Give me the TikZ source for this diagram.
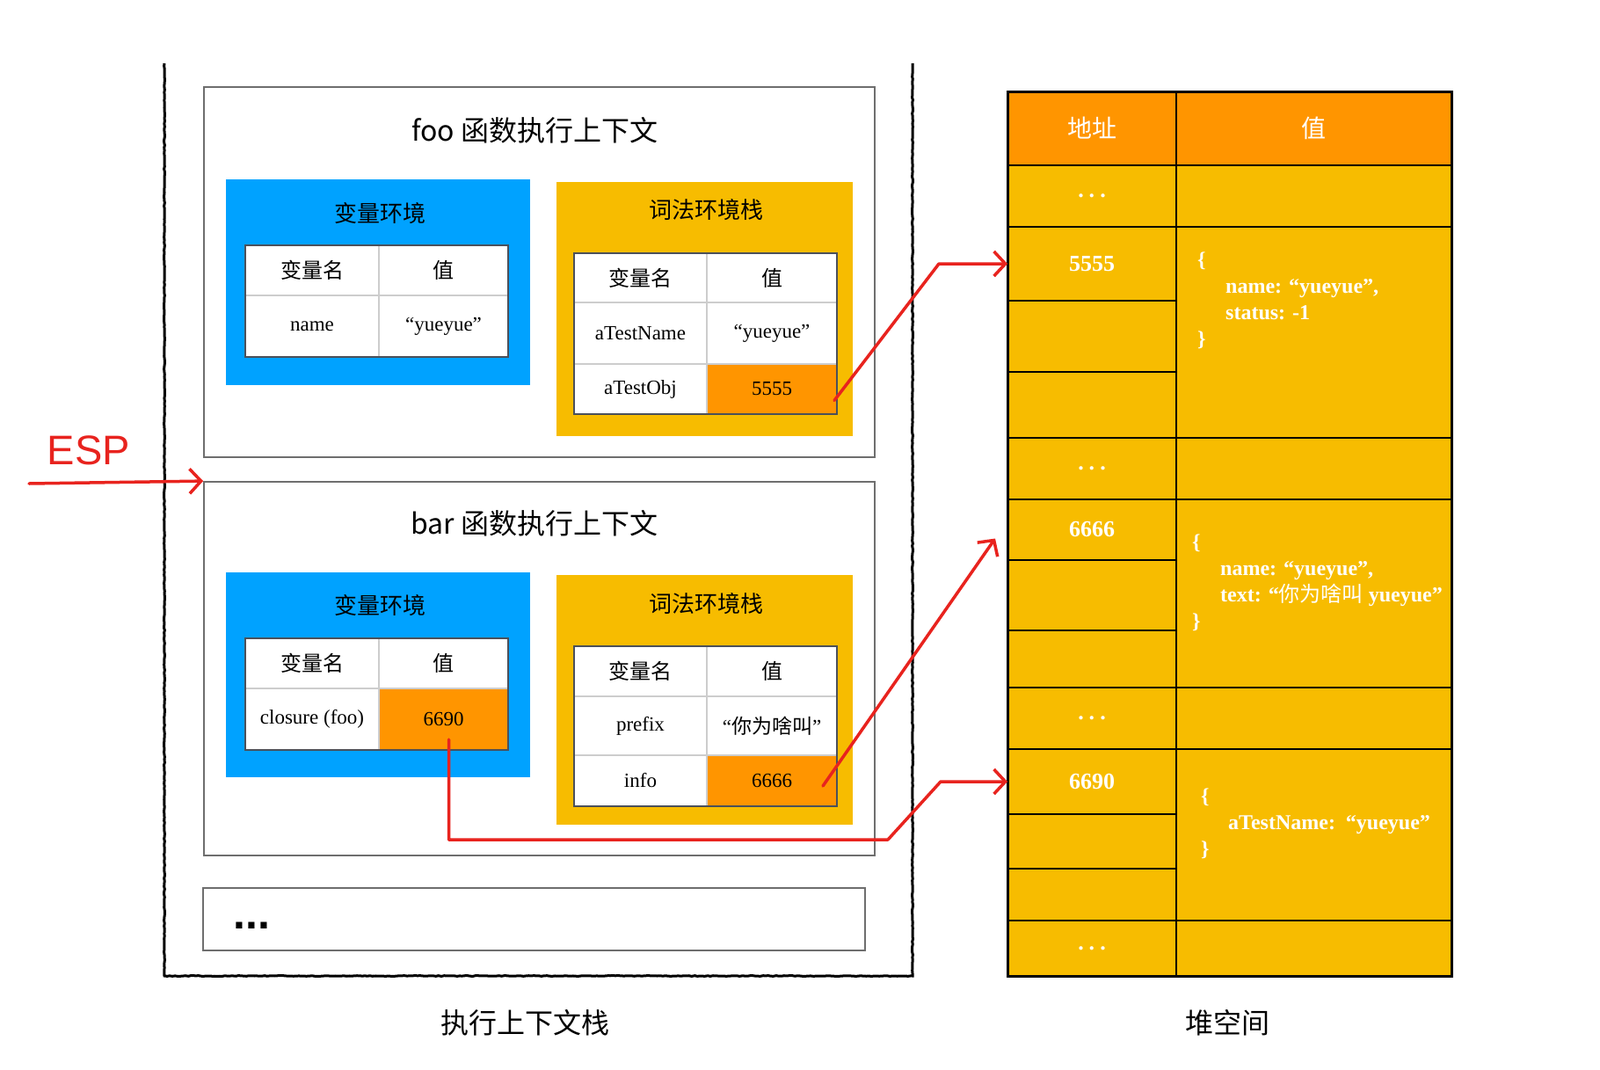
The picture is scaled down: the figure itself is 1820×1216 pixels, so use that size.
\documentclass[tikz,border=0pt]{standalone}
\usepackage{fontspec}
\setmainfont{Liberation Serif}
\setsansfont{Liberation Sans}
\newfontfamily\cjk{Noto Sans CJK SC}
\usetikzlibrary{arrows.meta, positioning, decorations.pathmorphing}

\definecolor{envblue}{RGB}{0,162,255}
\definecolor{lexyellow}{RGB}{247,188,0}
\definecolor{valorange}{RGB}{255,149,0}
\definecolor{arrowred}{RGB}{232,35,30}
\definecolor{framegray}{RGB}{110,110,110}
\definecolor{cellgray}{RGB}{205,205,205}
\definecolor{tablegray}{RGB}{75,80,90}

\begin{document}
\begin{tikzpicture}[x=1pt, y=-1pt,
    ctxbox/.style={rectangle, draw=framegray, line width=1.8pt, fill=white, inner sep=0pt},
    ctxtitle/.style={font=\cjk\fontsize{32}{36}\selectfont},
    envbox/.style={rectangle, fill=#1, inner sep=0pt},
    envtitle/.style={font=\cjk\fontsize{26}{30}\selectfont},
    cell/.style={rectangle, draw=cellgray, line width=1.5pt, fill=white, inner sep=0pt, outer sep=0pt, font=\fontsize{23}{26}\selectfont},
    headcell/.style={cell, font=\cjk\fontsize{24}{28}\selectfont},
    valcell/.style={cell, fill=valorange},
    tableframe/.style={draw=tablegray, line width=2.2pt},
    heapcell/.style={rectangle, draw=black, line width=2.5pt, fill=lexyellow, inner sep=0pt, outer sep=0pt, text=white, font=\bfseries\fontsize{26}{30}\selectfont},
    heaphead/.style={heapcell, fill=valorange, font=\cjk\fontsize{28}{32}\selectfont},
    heaptext/.style={text=white, align=left, inner sep=0pt, anchor=north west, font=\bfseries\fontsize{24}{30}\selectfont},
    captiontext/.style={font=\cjk\fontsize{32}{36}\selectfont},
    stackline/.style={draw=black, line width=3pt, decorate, decoration={random steps, segment length=3pt, amplitude=0.4pt}},
    redarrow/.style={draw=arrowred, line width=3.5pt, line cap=round, line join=round, -{Straight Barb[length=13pt, width=28pt, line width=3.5pt]}}
]
\useasboundingbox[fill=white] (0,0) rectangle (1820,1216);

% Stack frame
\draw[stackline] (187,72) -- (187,1110) -- (1038,1110) -- (1038,72);

% foo context
\node[ctxbox, minimum width=763pt, minimum height=421pt] (foo) at (613.5,309.5) {};
\node[ctxtitle] (foo-title) at (608,148) {foo 函数执行上下文};

\node[envbox=envblue, minimum width=346pt, minimum height=234pt] (foo-var) at (430,321) {};
\node[envtitle] (foo-var-title) at (432,243) {变量环境};
\node[headcell, minimum width=152pt, minimum height=57pt, anchor=north west] (foo-var-h1) at (279,279) {变量名};
\node[headcell, minimum width=147pt, minimum height=57pt, right=0pt of foo-var-h1] (foo-var-h2) {值};
\node[cell, minimum width=152pt, minimum height=70pt, below=0pt of foo-var-h1] (foo-var-n1) {name};
\node[cell, minimum width=147pt, minimum height=70pt, below=0pt of foo-var-h2] (foo-var-v1) {“yueyue”};
\draw[tableframe] (foo-var-h1.north west) rectangle (foo-var-v1.south east);

\node[envbox=lexyellow, minimum width=337pt, minimum height=289pt] (foo-lex) at (801.5,351.5) {};
\node[envtitle] (foo-lex-title) at (803,239) {词法环境栈};
\node[headcell, minimum width=151pt, minimum height=56pt, anchor=north west] (foo-lex-h1) at (653,288) {变量名};
\node[headcell, minimum width=148pt, minimum height=56pt, right=0pt of foo-lex-h1] (foo-lex-h2) {值};
\node[cell, minimum width=151pt, minimum height=70pt, below=0pt of foo-lex-h1] (foo-lex-n1) {aTestName};
\node[cell, minimum width=148pt, minimum height=70pt, below=0pt of foo-lex-h2] (foo-lex-v1) {“yueyue”};
\node[cell, minimum width=151pt, minimum height=57pt, below=0pt of foo-lex-n1] (foo-lex-n2) {aTestObj};
\node[valcell, minimum width=148pt, minimum height=57pt, below=0pt of foo-lex-v1] (foo-lex-v2) {5555};
\draw[tableframe] (foo-lex-h1.north west) rectangle (foo-lex-v2.south east);

% bar context
\node[ctxbox, minimum width=763pt, minimum height=425pt] (bar) at (613.5,760.5) {};
\node[ctxtitle] (bar-title) at (608,595) {bar 函数执行上下文};

\node[envbox=envblue, minimum width=346pt, minimum height=233pt] (bar-var) at (430,767.5) {};
\node[envtitle] (bar-var-title) at (432,689) {变量环境};
\node[headcell, minimum width=152pt, minimum height=57pt, anchor=north west] (bar-var-h1) at (279,726) {变量名};
\node[headcell, minimum width=147pt, minimum height=57pt, right=0pt of bar-var-h1] (bar-var-h2) {值};
\node[cell, minimum width=152pt, minimum height=70pt, below=0pt of bar-var-h1] (bar-var-n1) {closure (foo)};
\node[valcell, minimum width=147pt, minimum height=70pt, below=0pt of bar-var-h2] (bar-var-v1) {6690};
\draw[tableframe] (bar-var-h1.north west) rectangle (bar-var-v1.south east);

\node[envbox=lexyellow, minimum width=337pt, minimum height=284pt] (bar-lex) at (801.5,796) {};
\node[envtitle] (bar-lex-title) at (803,687) {词法环境栈};
\node[headcell, minimum width=151pt, minimum height=57pt, anchor=north west] (bar-lex-h1) at (653,735) {变量名};
\node[headcell, minimum width=148pt, minimum height=57pt, right=0pt of bar-lex-h1] (bar-lex-h2) {值};
\node[cell, minimum width=151pt, minimum height=67pt, below=0pt of bar-lex-h1] (bar-lex-n1) {prefix};
\node[cell, minimum width=148pt, minimum height=67pt, below=0pt of bar-lex-h2] (bar-lex-v1) {“{\cjk 你为啥叫}”};
\node[cell, minimum width=151pt, minimum height=58pt, below=0pt of bar-lex-n1] (bar-lex-n2) {info};
\node[valcell, minimum width=148pt, minimum height=58pt, below=0pt of bar-lex-v1] (bar-lex-v2) {6666};
\draw[tableframe] (bar-lex-h1.north west) rectangle (bar-lex-v2.south east);

% more contexts
\node[ctxbox, minimum width=753pt, minimum height=71pt] (more) at (607.5,1045.5) {};
\node[font=\sffamily\bfseries\fontsize{50}{50}\selectfont, inner sep=0pt, anchor=base west] (more-dots) at ([xshift=35pt, yshift=-10.5pt]more.west) {...};

% Heap
\node[heaphead, minimum width=192pt, minimum height=84pt, anchor=north west] (heap-addr-head) at (1146,104) {地址};
\node[heaphead, minimum width=313pt, minimum height=84pt, right=0pt of heap-addr-head] (heap-val-head) {值};

\node[heapcell, minimum width=192pt, minimum height=70pt, below=0pt of heap-addr-head] (heap-addr-1) {.\hspace{6pt}.\hspace{6pt}.};
\node[heapcell, minimum width=192pt, minimum height=84pt, below=0pt of heap-addr-1] (heap-addr-2) {5555};
\node[heapcell, minimum width=192pt, minimum height=81pt, below=0pt of heap-addr-2] (heap-addr-3) {};
\node[heapcell, minimum width=192pt, minimum height=75pt, below=0pt of heap-addr-3] (heap-addr-4) {};
\node[heapcell, minimum width=192pt, minimum height=70pt, below=0pt of heap-addr-4] (heap-addr-5) {.\hspace{6pt}.\hspace{6pt}.};
\node[heapcell, minimum width=192pt, minimum height=69pt, below=0pt of heap-addr-5] (heap-addr-6) {6666};
\node[heapcell, minimum width=192pt, minimum height=80pt, below=0pt of heap-addr-6] (heap-addr-7) {};
\node[heapcell, minimum width=192pt, minimum height=65pt, below=0pt of heap-addr-7] (heap-addr-8) {};
\node[heapcell, minimum width=192pt, minimum height=70pt, below=0pt of heap-addr-8] (heap-addr-9) {.\hspace{6pt}.\hspace{6pt}.};
\node[heapcell, minimum width=192pt, minimum height=74pt, below=0pt of heap-addr-9] (heap-addr-10) {6690};
\node[heapcell, minimum width=192pt, minimum height=62pt, below=0pt of heap-addr-10] (heap-addr-11) {};
\node[heapcell, minimum width=192pt, minimum height=59pt, below=0pt of heap-addr-11] (heap-addr-12) {};
\node[heapcell, minimum width=192pt, minimum height=63pt, below=0pt of heap-addr-12] (heap-addr-13) {.\hspace{6pt}.\hspace{6pt}.};

\node[heapcell, minimum width=313pt, minimum height=70pt, below=0pt of heap-val-head] (heap-val-1) {};
\node[heapcell, minimum width=313pt, minimum height=240pt, below=0pt of heap-val-1] (heap-val-2) {};
\node[heapcell, minimum width=313pt, minimum height=70pt, below=0pt of heap-val-2] (heap-val-3) {};
\node[heapcell, minimum width=313pt, minimum height=214pt, below=0pt of heap-val-3] (heap-val-4) {};
\node[heapcell, minimum width=313pt, minimum height=70pt, below=0pt of heap-val-4] (heap-val-5) {};
\node[heapcell, minimum width=313pt, minimum height=195pt, below=0pt of heap-val-5] (heap-val-6) {};
\node[heapcell, minimum width=313pt, minimum height=63pt, below=0pt of heap-val-6] (heap-val-7) {};
\draw[line width=3pt] (heap-addr-head.north west) rectangle (heap-val-7.south east);

\node[heaptext] (obj-5555) at ([xshift=24pt, yshift=-28.5pt]heap-val-2.north west)
  {\{\\\hspace*{32pt}name: “yueyue”,\\\hspace*{32pt}status: -1\\\}};
\node[heaptext] (obj-6666) at ([xshift=18pt, yshift=-39.5pt]heap-val-4.north west)
  {\{\\\hspace*{32pt}name: “yueyue”,\\\hspace*{32pt}text: “{\cjk\mdseries 你为啥叫} yueyue”\\\}};
\node[heaptext] (obj-6690) at ([xshift=28pt, yshift=-44.5pt]heap-val-6.north west)
  {\{\\\hspace*{31pt}aTestName:\ \ “yueyue”\\\}};

% Captions
\node[captiontext] (stack-caption) at (597,1163) {执行上下文栈};
\node[captiontext] (heap-caption) at (1396,1163) {堆空间};

% ESP
\node[text=arrowred, font=\sffamily\fontsize{47}{50}\selectfont, inner sep=0pt] (esp) at (101,512) {ESP};
\coordinate (esp-tail) at (33,550);
\draw[redarrow] (esp-tail) -- (bar.north west);

% Pointers
\draw[redarrow] ([xshift=-3pt, yshift=-13pt]foo-lex-v2.east) -- ([xshift=-78pt]heap-addr-2.west) -- (heap-addr-2.west);
\draw[redarrow] ([xshift=-16pt, yshift=-6pt]bar-lex-v2.east) -- ([xshift=-14pt, yshift=-10pt]heap-addr-6.west);
\draw[redarrow] ([xshift=6pt, yshift=12pt]bar-var-v1.south) |- ([xshift=-136pt, yshift=-66pt]heap-addr-10.west)
  -- ([xshift=-76pt]heap-addr-10.west) -- (heap-addr-10.west);

\end{tikzpicture}
\end{document}
